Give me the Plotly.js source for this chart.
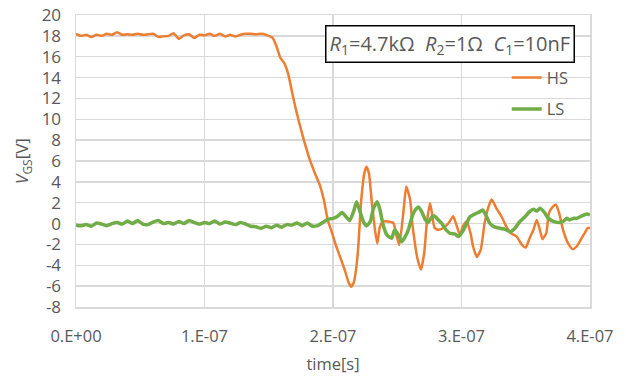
<!DOCTYPE html>
<html>
<head>
<meta charset="utf-8">
<script src="https://cdn.plot.ly/plotly-3.0.1.min.js"></script>
<style>html,body{margin:0;padding:0;background:#fff;}#chart{width:626px;height:377px;}</style>
</head>
<body>
<div id="chart"></div>
<script>
// time in ns
const hsTime = [0,4,8,12,16,20,24,28,32,36,40,44,48,52,56,60,64,68,72,76,80,84,88,92,96,100,104,108,112,116,120,124,128,132,136,140,144,148,
  153,156,159,162,165,169,172,176,179,182,186,190,193,196,199,202,205.5,209,212,214,216,217.5,219.5,222,224.5,226,228,230,233,234.5,236.5,239,243,247,249.6,251.6,254.7,257,260,262,266,268.5,271,273,275.5,277,279,282,286,290,293.5,296,298.8,301,304,307,309,312,315,318,321,323.5,327,331,335,338,343,347,350,353,356,358.5,361,363,366,368,371,373.5,376,379,383,386.5,389.6,393.5,396,398,400];
const hsValues = [18.2,18.0,18.1,17.9,18.1,18.0,18.2,18.1,18.35,18.1,18.15,18.1,18.2,18.1,18.15,18.2,17.9,17.95,18.0,18.25,17.7,18.05,18.15,17.8,18.1,18.05,18.2,18.0,18.2,17.95,18.1,17.95,18.1,18.2,18.2,18.15,18.2,18.1,
  17.8,17.0,15.9,15.4,14.4,12.1,10.5,8.6,7.3,6.1,4.8,3.6,2.2,0.3,-0.8,-2.0,-3.2,-4.4,-5.6,-6.05,-5.7,-4.8,-2.5,2.3,4.9,5.45,4.8,2.3,-0.9,-1.9,-0.3,0.2,0.2,0.05,-1.25,-2.05,1.0,3.55,2.3,-0.3,-3.5,-4.4,-2.8,0.05,1.95,1.0,-0.4,-0.6,-0.4,0.05,0.7,-0.1,-1.1,-0.3,0.2,-0.9,-2.2,-3.2,-2.5,0.05,1.6,2.3,1.5,0.7,-0.3,-0.9,-1.25,-2.05,-2.3,-1.4,-0.6,0.35,-0.6,-1.5,-0.9,1.0,1.6,1.8,1.0,-0.6,-1.9,-2.45,-2.2,-1.4,-0.9,-0.45,-0.4];

const lsTime = [0,4,8,12,16,20,24,28,32,36,40,44,48,52,56,60,64,68,72,76,80,84,88,92,96,100,104,108,112,116,120,124,128,132,136,140,144,148,152,156,160,164,168,172,176,180,184,188,192,
  196,200,203,207,209.6,213,216,218.4,221,223.6,226,229,231.5,234.5,236.6,239,242,245.7,248,251,253.5,256,258.6,261.5,264,266.5,269,272,274,277,279,282,284.6,287,291,295,297.6,301.6,304,306.6,310.5,314.4,316.5,319,322,326,330,334,338,341.6,345.5,349.4,353,356,358.5,361,364,367.6,371.5,375,379,382,384,387,389.6,393.5,397.4,400];
const lsValues = [-0.15,-0.2,-0.1,-0.25,0.05,-0.05,-0.2,0.0,0.1,-0.05,0.25,0.0,0.3,-0.05,-0.1,0.15,0.3,0.0,0.1,-0.05,0.2,0.0,0.3,0.1,-0.05,0.1,0.0,0.25,-0.05,0.15,0.05,-0.1,0.1,-0.05,-0.25,-0.3,-0.45,-0.25,-0.4,-0.15,-0.35,-0.1,-0.15,0.05,-0.2,0.05,-0.25,-0.2,0.1,
  0.4,0.5,0.65,1.05,0.73,0.3,1.15,2.1,1.15,0.2,-0.23,0.2,1.45,2.1,1.3,-0.13,-1.1,-1.4,-0.6,-1.1,-1.75,-1.3,-0.6,0.65,1.3,1.6,1.15,0.35,0.1,0.65,0.72,0.35,0.03,-0.45,-0.93,-1.0,-1.25,-0.6,0.03,0.65,0.92,1.15,1.3,0.8,0.03,-0.35,-0.45,-0.55,-0.8,-0.45,0.2,0.65,1.15,1.37,1.2,1.47,1.15,0.5,0.2,0.1,0.2,0.5,0.35,0.5,0.5,0.72,0.92,0.85];

const xTickVals = [0,100,200,300,400];
const xTickText = ["0.E+00","1.E-07","2.E-07","3.E-07","4.E-07"];
const yTickVals = [-8,-6,-4,-2,0,2,4,6,8,10,12,14,16,18,20];
const yTickText = ["-8","-6","-4","-2","0","2","4","6","8","10","12","14","16","18","20"];
const seriesNames = ["HS","LS"];

const grey = "#595959";
const grid = "#d9d9d9";
const fontFam = "'Open Sans', 'Liberation Sans', sans-serif";

const traces = [
  {x: hsTime, y: hsValues, name: seriesNames[0], type: "scatter", mode: "lines",
   line: {color: "#ED7D31", width: 2.5, shape: "spline", smoothing: 0.5}, legendgroup: "a"},
  {x: lsTime, y: lsValues, name: seriesNames[1], type: "scatter", mode: "lines",
   line: {color: "#70AD47", width: 3.5, shape: "spline", smoothing: 0.5}, legendgroup: "b"}
];

const layout = {
  width: 626, height: 377,
  margin: {l: 76, r: 36, t: 15, b: 70},
  paper_bgcolor: "#fff", plot_bgcolor: "#fff",
  font: {family: fontFam, size: 17, color: grey},
  xaxis: {
    range: [0, 400], tickvals: xTickVals, ticktext: xTickText,
    showgrid: true, gridcolor: grid, gridwidth: 1.5,
    showline: true, linecolor: grid, linewidth: 1.5, mirror: true,
    zeroline: false, ticks: "", ticklabelstandoff: 14,
    tickfont: {size: 16.5, color: grey},
    title: {text: "time[s]", font: {size: 16.5, color: grey}, standoff: 12}
  },
  yaxis: {
    range: [-8, 20], tickvals: yTickVals, ticktext: yTickText,
    showgrid: true, gridcolor: grid, gridwidth: 1.5,
    showline: true, linecolor: grid, linewidth: 1.5, mirror: true,
    zeroline: false, ticks: "", ticklabelstandoff: 10,
    tickfont: {size: 17, color: grey},
    title: {text: "<i>V</i><sub>GS</sub>[V]", font: {size: 17, color: grey}, standoff: 8}
  },
  showlegend: true,
  legend: {x: 0.838, y: 0.845, xanchor: "left", yanchor: "top", bgcolor: "rgba(0,0,0,0)",
           font: {size: 16.5, color: grey}, tracegroupgap: 7},
  annotations: [{
    xref: "paper", yref: "paper", x: 0.727, y: 0.9, xanchor: "center", yanchor: "middle",
    text: "<i>R</i><sub>1</sub>=4.7kΩ  <i>R</i><sub>2</sub>=1Ω  <i>C</i><sub>1</sub>=10nF",
    showarrow: false, font: {size: 20, color: grey, family: fontFam},
    bordercolor: "#000", borderwidth: 1.5, borderpad: 3, bgcolor: "#fff"
  }]
};

Plotly.newPlot("chart", traces, layout, {displayModeBar: false, staticPlot: true});
</script>
</body>
</html>
